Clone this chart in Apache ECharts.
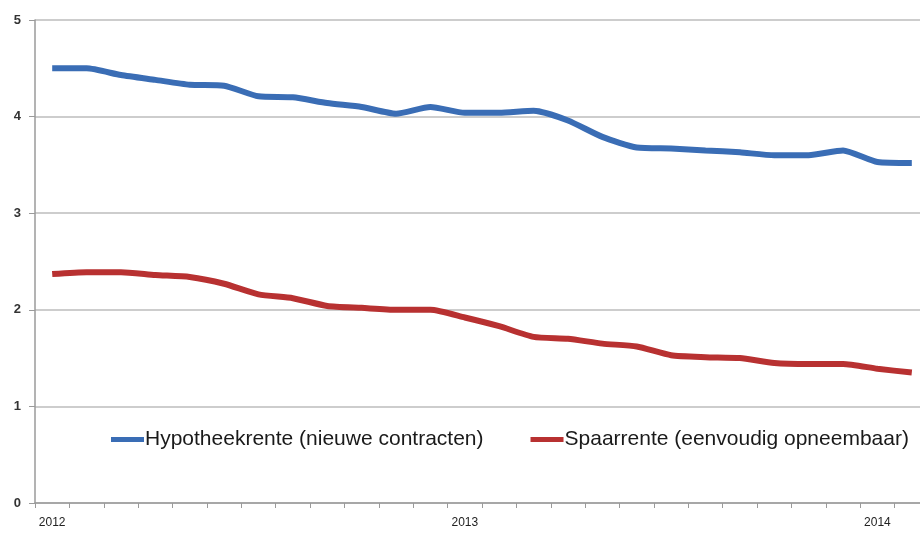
<!DOCTYPE html>
<html>
<head>
<meta charset="utf-8">
<script src="https://cdn.jsdelivr.net/npm/echarts@6/dist/echarts.min.js"></script>
<style>
  html, body { margin: 0; padding: 0; background: #fff; }
  #chart { width: 920px; height: 533px; }
</style>
</head>
<body>
<div id="chart"></div>
<script>
// maanden jan 2012 .. feb 2014
var months = [
  '2012-01', '2012-02', '2012-03', '2012-04', '2012-05', '2012-06',
  '2012-07', '2012-08', '2012-09', '2012-10', '2012-11', '2012-12',
  '2013-01', '2013-02', '2013-03', '2013-04', '2013-05', '2013-06',
  '2013-07', '2013-08', '2013-09', '2013-10', '2013-11', '2013-12',
  '2014-01', '2014-02'
];
var hypotheekrente = [4.50, 4.50, 4.43, 4.38, 4.33, 4.32, 4.21, 4.20, 4.14, 4.10, 4.03, 4.10, 4.04,
  4.04, 4.06, 3.96, 3.79, 3.68, 3.67, 3.65, 3.63, 3.60, 3.60, 3.65, 3.53, 3.52];
var spaarrente = [2.37, 2.39, 2.39, 2.36, 2.34, 2.27, 2.16, 2.12, 2.04, 2.02, 2.00, 2.00, 1.92,
  1.83, 1.72, 1.70, 1.65, 1.62, 1.53, 1.51, 1.50, 1.45, 1.44, 1.44, 1.39, 1.35];
var seriesNames = ['Hypotheekrente (nieuwe contracten)', 'Spaarrente (eenvoudig opneembaar)'];

var font = '"Liberation Sans", Arial, sans-serif';
var chart = echarts.init(document.getElementById('chart'));

chart.setOption({
  animation: false,
  backgroundColor: '#fff',
  grid: { left: 35, top: 20, width: 894, height: 483, outerBoundsMode: 'none' },
  legend: {
    left: 106,
    top: 424,
    width: 860,
    icon: 'rect',
    itemWidth: 33,
    itemHeight: 5,
    itemGap: 47,
    textStyle: { fontFamily: font, fontSize: 21, color: '#1a1a1a', padding: [0, 0, 0, -4] },
    data: seriesNames
  },
  xAxis: {
    type: 'category',
    data: months,
    boundaryGap: true,
    axisLine: { lineStyle: { color: '#9a9a9a', width: 1.5 } },
    axisTick: { show: true, interval: 0, length: 5, lineStyle: { color: '#9a9a9a' } },
    axisLabel: {
      interval: 0,
      margin: 14,
      fontFamily: font,
      fontSize: 12,
      color: '#222',
      formatter: function (v) { return v.slice(5) === '01' ? v.slice(0, 4) : ''; }
    },
    splitLine: { show: false }
  },
  yAxis: {
    type: 'value',
    min: 0,
    max: 5,
    interval: 1,
    axisLine: { show: true, lineStyle: { color: '#9a9a9a', width: 1.5 } },
    axisTick: { show: true, length: 6, lineStyle: { color: '#9a9a9a' } },
    axisLabel: { margin: 14, fontFamily: font, fontSize: 13, fontWeight: 'bold', color: '#333' },
    splitLine: { lineStyle: { color: '#bdbdbd', width: 1.5 } }
  },
  series: [
    {
      name: seriesNames[0],
      type: 'line',
      data: hypotheekrente,
      smooth: 0.2,
      showSymbol: false,
      color: '#3a6db5',
      lineStyle: { width: 6, color: '#3a6db5' }
    },
    {
      name: seriesNames[1],
      type: 'line',
      data: spaarrente,
      smooth: 0.2,
      showSymbol: false,
      color: '#b83131',
      lineStyle: { width: 6, color: '#b83131' }
    }
  ]
});
</script>
</body>
</html>
